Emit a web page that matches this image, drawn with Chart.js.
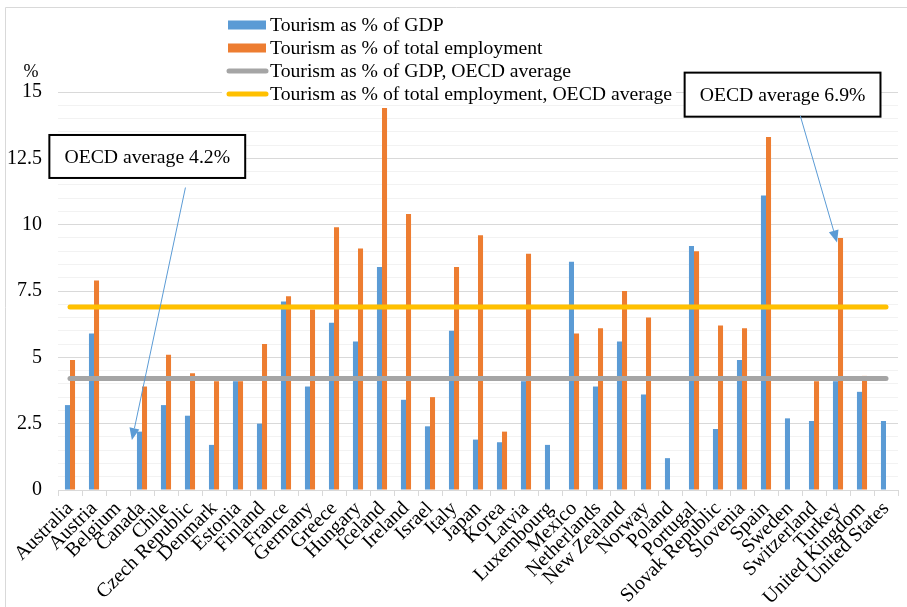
<!DOCTYPE html>
<html>
<head>
<meta charset="utf-8">
<script src="https://cdn.jsdelivr.net/npm/chart.js@4.4.1/dist/chart.umd.min.js"></script>
<style>
  html, body { margin: 0; padding: 0; background: #fff; }
  #wrap { width: 907px; height: 607px; }
</style>
</head>
<body>
<div id="wrap"><canvas id="chart" width="907" height="607"></canvas></div>
<script>
// Données
const countries = ['Australia', 'Austria', 'Belgium', 'Canada', 'Chile', 'Czech Republic', 'Denmark',
  'Estonia', 'Finland', 'France', 'Germany', 'Greece', 'Hungary', 'Iceland', 'Ireland', 'Israel',
  'Italy', 'Japan', 'Korea', 'Latvia', 'Luxembourg', 'Mexico', 'Netherlands', 'New Zealand',
  'Norway', 'Poland', 'Portugal', 'Slovak Republic', 'Slovenia', 'Spain', 'Sweden', 'Switzerland',
  'Turkey', 'United Kingdom', 'United States'];

const gdpShare = [3.2, 5.9, null, 2.2, 3.2, 2.8, 1.7, 4.1, 2.5, 7.1, 3.9, 6.3, 5.6, 8.4, 3.4, 2.4,
  6.0, 1.9, 1.8, 4.1, 1.7, 8.6, 3.9, 5.6, 3.6, 1.2, 9.2, 2.3, 4.9, 11.1, 2.7, 2.6, 4.1, 3.7, 2.6];

const employmentShare = [4.9, 7.9, null, 3.9, 5.1, 4.4, 4.1, 4.1, 5.5, 7.3, 6.8, 9.9, 9.1, 14.4, 10.4, 3.5,
  8.4, 9.6, 2.2, 8.9, null, 5.9, 6.1, 7.5, 6.5, null, 9.0, 6.2, 6.1, 13.3, null, 4.1, 9.5, 4.3, null];

const gdpAverage = 4.2;
const employmentAverage = 6.9;

const yTickLabels = [0, 2.5, 5, 7.5, 10, 12.5, 15];

const seriesNames = [
  'Tourism as % of GDP',
  'Tourism as % of total employment',
  'Tourism as % of GDP, OECD average',
  'Tourism as % of total employment, OECD average',
];

// Encadrés et flèches (en coordonnées des axes : index de catégorie, valeur)
const callouts = [
  { text: 'OECD average 4.2%', box: [-0.86, 7.3, 13.38, 11.76], from: [4.81, 11.4], to: [2.58, 1.88] },
  { text: 'OECD average 6.9%', box: [25.61, 33.77, 15.73, 14.07], from: [30.43, 14.1], to: [31.96, 9.33] },
];

const blue = '#5b9bd5';
const orange = '#ed7d31';
const gray = '#a5a5a5';
const yellow = '#ffc000';
const serif = "'Liberation Serif', 'Times New Roman', Tinos, 'DejaVu Serif', serif";

Chart.defaults.font.family = serif;
Chart.defaults.color = '#000';

// Légende verticale, encadrés, cadre extérieur
const extrasPlugin = {
  id: 'extras',
  beforeDraw(chart) {
    const ctx = chart.ctx;
    ctx.save();
    ctx.strokeStyle = '#d9d9d9';
    ctx.lineWidth = 1;
    ctx.beginPath();
    ctx.moveTo(5.5, 607);
    ctx.lineTo(5.5, 7.5);
    ctx.lineTo(907, 7.5);
    ctx.stroke();
    ctx.restore();
  },
  afterDraw(chart) {
    const ctx = chart.ctx;
    const xs = chart.scales.x, ys = chart.scales.y;
    ctx.save();

    // "%" au-dessus de l'axe
    ctx.font = '18px ' + serif;
    ctx.fillStyle = '#000';
    ctx.textAlign = 'center';
    ctx.textBaseline = 'middle';
    ctx.fillText('%', 31, chart.chartArea.top - 20);

    // légende
    ctx.fillStyle = '#fff';
    ctx.fillRect(222, 12, 454, 86);
    ctx.font = '19.7px ' + serif;
    ctx.textAlign = 'left';
    chart.data.datasets.forEach((ds, i) => {
      const cy = 25 + i * 23;
      if (ds.type === 'bar') {
        ctx.fillStyle = ds.backgroundColor;
        ctx.fillRect(228, cy - 4.5, 38, 9);
      } else {
        ctx.strokeStyle = ds.borderColor;
        ctx.lineWidth = 5;
        ctx.lineCap = 'round';
        ctx.beginPath();
        ctx.moveTo(229, cy);
        ctx.lineTo(266, cy);
        ctx.stroke();
      }
      ctx.fillStyle = '#000';
      ctx.fillText(ds.label, 270, cy + 1);
    });

    // encadrés
    callouts.forEach(c => {
      const l = xs.getPixelForValue(c.box[0]), r = xs.getPixelForValue(c.box[1]);
      const t = ys.getPixelForValue(c.box[2]), b = ys.getPixelForValue(c.box[3]);
      ctx.fillStyle = '#fff';
      ctx.fillRect(l, t, r - l, b - t);
      ctx.strokeStyle = '#000';
      ctx.lineWidth = 2;
      ctx.lineCap = 'butt';
      ctx.strokeRect(l, t, r - l, b - t);
      ctx.fillStyle = '#000';
      ctx.textAlign = 'center';
      ctx.fillText(c.text, (l + r) / 2, (t + b) / 2 + 1);

      const x1 = xs.getPixelForValue(c.from[0]), y1 = ys.getPixelForValue(c.from[1]);
      const x2 = xs.getPixelForValue(c.to[0]), y2 = ys.getPixelForValue(c.to[1]);
      const ang = Math.atan2(y2 - y1, x2 - x1);
      const len = 12, half = 5;
      const bx = x2 - len * Math.cos(ang), by = y2 - len * Math.sin(ang);
      ctx.strokeStyle = blue;
      ctx.lineWidth = 1;
      ctx.beginPath();
      ctx.moveTo(x1, y1);
      ctx.lineTo(bx, by);
      ctx.stroke();
      ctx.fillStyle = blue;
      ctx.beginPath();
      ctx.moveTo(x2, y2);
      ctx.lineTo(bx + half * Math.sin(ang), by - half * Math.cos(ang));
      ctx.lineTo(bx - half * Math.sin(ang), by + half * Math.cos(ang));
      ctx.closePath();
      ctx.fill();
    });
    ctx.restore();
  }
};

const chart = new Chart(document.getElementById('chart'), {
  data: {
    labels: countries,
    datasets: [
      { type: 'bar', label: seriesNames[0], data: gdpShare, backgroundColor: blue, order: 2,
        categoryPercentage: 0.42, barPercentage: 1 },
      { type: 'bar', label: seriesNames[1], data: employmentShare, backgroundColor: orange, order: 2,
        categoryPercentage: 0.42, barPercentage: 1 },
      { type: 'line', label: seriesNames[2], order: 1, borderColor: gray, borderWidth: 5,
        borderCapStyle: 'round', pointRadius: 0,
        data: [{ x: countries[0], y: gdpAverage }, { x: countries[countries.length - 1], y: gdpAverage }] },
      { type: 'line', label: seriesNames[3], order: 1, borderColor: yellow, borderWidth: 5,
        borderCapStyle: 'round', pointRadius: 0,
        data: [{ x: countries[0], y: employmentAverage }, { x: countries[countries.length - 1], y: employmentAverage }] },
    ],
  },
  plugins: [extrasPlugin],
  options: {
    responsive: false,
    animation: false,
    layout: { padding: { top: 92, right: 9, left: 0, bottom: 0 } },
    plugins: { legend: { display: false }, tooltip: { enabled: false } },
    scales: {
      x: {
        offset: true,
        grid: { offset: true, drawOnChartArea: false, drawTicks: true, tickLength: 6, color: '#d9d9d9' },
        border: { color: '#d9d9d9' },
        ticks: { autoSkip: false, minRotation: 45, maxRotation: 45, padding: 1, font: { size: 20 } },
        afterFit: (scale) => { scale.height = 117; },
      },
      y: {
        min: 0,
        max: 15,
        grid: {
          drawTicks: false,
          color: (ctx) => yTickLabels.includes(ctx.tick.value) ? '#d9d9d9' : '#f2f2f2',
        },
        border: { display: false },
        ticks: {
          stepSize: 0.5,
          autoSkip: false,
          padding: 16,
          font: { size: 20 },
          callback: (v) => yTickLabels.includes(v) ? String(v) : '',
        },
        afterFit: (scale) => { scale.width = 58; },
      },
    },
  },
});
</script>
</body>
</html>
